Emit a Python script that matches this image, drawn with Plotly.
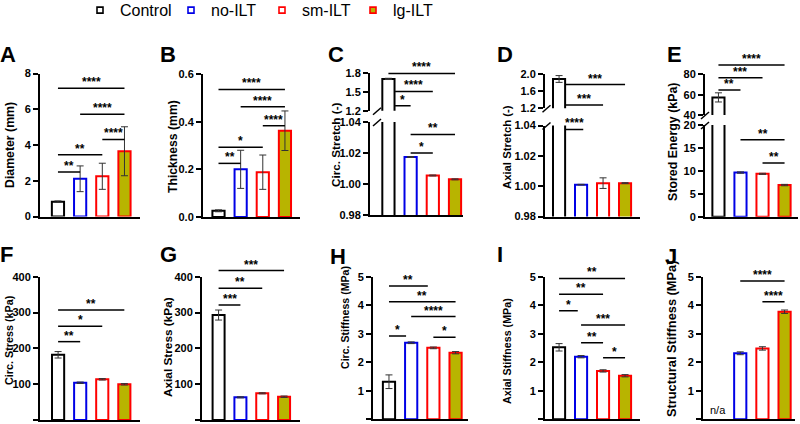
import plotly.graph_objects as go

W, H = 800, 424

groups = ["Control", "no-ILT", "sm-ILT", "lg-ILT"]
edge_colors = ["#000000", "#0000e6", "#ff0000", "#ff0000"]
fill_colors = ["#ffffff", "#ffffff", "#ffffff", "#b8b400"]
positions = [0, 1, 2, 3]

# mean values and error bars
diameter = [0.83, 2.11, 2.25, 3.65]
diameter_err = [0.04, 0.72, 0.73, 1.37]
thickness = [0.026, 0.200, 0.188, 0.362]
thickness_err = [0.004, 0.080, 0.072, 0.083]
circ_stretch = [1.71, 1.0174, 1.0055, 1.0030]
circ_stretch_err = [0.01, 0.0003, 0.0003, 0.0003]
axial_stretch = [1.89, 1.0010, 1.0020, 1.0020]
axial_stretch_err = [0.08, 0.0002, 0.0035, 0.0003]
stored_energy = [57.3, 9.63, 9.35, 6.90]
stored_energy_err = [4.5, 0.15, 0.12, 0.15]
circ_stress = [182, 104, 113.6, 99.6]
circ_stress_err = [9, 2, 2, 2]
axial_stress = [293, 63.3, 74.5, 65]
axial_stress_err = [14, 1.5, 1.5, 2]
circ_stiffness = [1.32, 2.69, 2.51, 2.34]
circ_stiffness_err = [0.24, 0.03, 0.03, 0.04]
axial_stiffness = [2.53, 2.20, 1.70, 1.53]
axial_stiffness_err = [0.13, 0.04, 0.04, 0.04]
struct_stiffness = [None, 2.32, 2.49, 3.78]
struct_stiffness_err = [None, 0.05, 0.06, 0.06]

# significance brackets: (from group, to group, height, label)
diameter_sig = [(0, 1, 2.49, "**"), (0, 2, 3.46, "**"), (2, 3, 4.31, "****"),
                (1, 3, 5.72, "****"), (0, 3, 7.18, "****")]
thickness_sig = [(0, 1, 0.225, "**"), (0, 2, 0.293, "*"), (2, 3, 0.383, "****"),
                 (1, 3, 0.463, "****"), (0, 3, 0.535, "****")]
circ_stretch_sig = [(0, 3, 1.797, "****"), (0.3, 2, 1.51, "****"), (0.3, 1, 1.28, "*"),
                    (1, 3, 1.032, "**"), (1, 2, 1.020, "*")]
axial_stretch_sig = [(0.3, 3, 1.76, "***"), (0.3, 2, 1.28, "***"), (0.3, 1.1, 1.0374, "****")]
stored_energy_sig = [(0, 3, 89.2, "****"), (0, 2, 76.7, "***"), (0, 1, 64.5, "**"),
                     (1, 3, 16.8, "**"), (2, 3, 11.7, "**")]
circ_stress_sig = [(0, 1, 218.7, "**"), (0, 2, 262, "*"), (0, 3, 307, "**")]
axial_stress_sig = [(0, 1, 321, "***"), (0, 2, 368, "**"), (0, 3, 417, "***")]
circ_stiffness_sig = [(0, 1.75, 4.68, "**"), (0, 3, 4.13, "**"), (1, 3, 3.61, "****"),
                      (0, 0.77, 2.93, "*"), (2, 3, 2.88, "*")]
axial_stiffness_sig = [(0, 3, 4.95, "**"), (0, 2, 4.39, "**"), (0, 0.85, 3.81, "*"),
                       (1, 3, 3.31, "***"), (1, 2, 2.69, "**"), (2, 3, 2.16, "*")]
struct_stiffness_sig = [(1, 3, 4.86, "****"), (2, 3, 4.13, "****")]

FONT = "Arial, Liberation Sans, sans-serif"

# panel geometry in pixels: x span, x data range, segments (top px, bottom px, y range, ticks, format)
panels = [
    dict(letter="A", lx=-2, ly=40, title="Diameter (mm)", tx=10, ty=145, ts=12.3,
         vals=diameter, errs=diameter_err, sig=diameter_sig,
         xpx=(40, 140), xr=(-0.81, 3.70),
         segs=[(73.5, 216.5, (0, 8), [0, 2, 4, 6, 8], "")]),
    dict(letter="B", lx=158, ly=40, title="Thickness (mm)", tx=173, ty=147, ts=12.2,
         vals=thickness, errs=thickness_err, sig=thickness_sig,
         xpx=(203, 300), xr=(-0.70, 3.68),
         segs=[(74, 217, (0, 0.6), [0, 0.2, 0.4, 0.6], ".1f")]),
    dict(letter="C", lx=326, ly=40, title="Circ. Stretch (-)", tx=335, ty=145, ts=11.7,
         vals=circ_stretch, errs=circ_stretch_err, sig=circ_stretch_sig,
         xpx=(370, 463), xr=(-0.83, 3.36), brk=377,
         segs=[(73.3, 110.7, (1.2, 1.8), [1.2, 1.5, 1.8], ".1f"),
               (122, 215, (0.98, 1.04), [0.98, 1.00, 1.02, 1.04], ".2f")]),
    dict(letter="D", lx=495, ly=40, title="Axial Stretch (-)", tx=507, ty=147, ts=11.3,
         vals=axial_stretch, errs=axial_stretch_err, sig=axial_stretch_sig,
         xpx=(545, 640), xr=(-0.64, 3.68), brk=546.5,
         segs=[(74.3, 108.3, (1.2, 2.0), [1.2, 1.6, 2.0], ".1f"),
               (125.5, 216.5, (0.98, 1.04), [0.98, 1.00, 1.02, 1.04], ".2f")]),
    dict(letter="E", lx=665, ly=40, title="Stored Energy (kPa)", tx=673, ty=142, ts=12.4,
         vals=stored_energy, errs=stored_energy_err, sig=stored_energy_sig,
         xpx=(705, 798), xr=(-0.61, 3.61), brk=705,
         segs=[(74.3, 115, (40, 80), [40, 60, 80], ""),
               (125, 216.7, (0, 20), [0, 5, 10, 15, 20], "")]),
    dict(letter="F", lx=-2, ly=240, title="Circ. Stress (kPa)", tx=9, ty=340, ts=10.8,
         vals=circ_stress, errs=circ_stress_err, sig=circ_stress_sig,
         xpx=(40, 140), xr=(-0.82, 3.71),
         segs=[(276.7, 420, (0, 400), [0, 100, 200, 300, 400], "")]),
    dict(letter="G", lx=158, ly=240, title="Axial Stress (kPa)", tx=168, ty=347, ts=11.8,
         vals=axial_stress, errs=axial_stress_err, sig=axial_stress_sig,
         xpx=(202, 300), xr=(-0.76, 3.73),
         segs=[(276.7, 420, (0, 400), [0, 100, 200, 300, 400], "")]),
    dict(letter="H", lx=328, ly=242, title="Circ. Stiffness (MPa)", tx=345, ty=318, ts=10.6,
         vals=circ_stiffness, errs=circ_stiffness_err, sig=circ_stiffness_sig,
         xpx=(373, 468), xr=(-0.72, 3.56),
         segs=[(277, 419.3, (0, 5), [0, 1, 2, 3, 4, 5], "")]),
    dict(letter="I", lx=495, ly=240, title="Axial Stiffness (MPa)", tx=507, ty=351, ts=10.7,
         vals=axial_stiffness, errs=axial_stiffness_err, sig=axial_stiffness_sig,
         xpx=(545, 640), xr=(-0.64, 3.68),
         segs=[(277, 419.3, (0, 5), [0, 1, 2, 3, 4, 5], "")]),
    dict(letter="J", lx=663, ly=242, title="Structural Stiffness (MPa)", tx=671, ty=339, ts=12.8,
         vals=struct_stiffness, errs=struct_stiffness_err, sig=struct_stiffness_sig,
         xpx=(703, 795), xr=(-0.68, 3.47),
         segs=[(277, 419.3, (0, 5), [0, 1, 2, 3, 4, 5], "")]),
]


def px_x(p):
    return p / W


def px_y(p):
    return 1 - p / H


fig = go.Figure()
layout = {}
annotations = []
shapes = []
count = [0]


def new_axes(xdom, ydom, xr, yr, show_x=True, visible=True, yopts=None):
    count[0] += 1
    s = "" if count[0] == 1 else str(count[0])
    layout["xaxis" + s] = dict(domain=xdom, range=list(xr), anchor="y" + s,
                               showline=show_x, linecolor="black", linewidth=2,
                               showticklabels=False, ticks="", showgrid=False,
                               zeroline=False, visible=visible, fixedrange=True)
    ya = dict(domain=ydom, range=list(yr), anchor="x" + s, showgrid=False,
              zeroline=False, visible=visible, fixedrange=True)
    if yopts:
        ya.update(yopts)
    layout["yaxis" + s] = ya
    return "x" + s, "y" + s


EXT = 30  # extra headroom (px) for significance bars above the top segment

for p in panels:
    xdom = [px_x(p["xpx"][0]), px_x(p["xpx"][1])]
    seg_axes = []
    for i, (top, bot, yr, tv, fmt) in enumerate(p["segs"]):
        last = i == len(p["segs"]) - 1
        yopts = dict(showline=True, linecolor="black", linewidth=2, ticks="outside",
                     ticklen=5, tickwidth=2, tickcolor="black", tickvals=tv,
                     tickformat=fmt,
                     tickfont=dict(family=FONT, size=11, color="black", weight="bold"))
        xa, ya = new_axes(xdom, [px_y(bot), px_y(top)], p["xr"], yr,
                          show_x=last, yopts=yopts)
        fig.add_trace(go.Bar(
            x=positions, y=p["vals"], width=0.55, xaxis=xa, yaxis=ya,
            marker=dict(color=fill_colors, line=dict(color=edge_colors, width=2)),
            error_y=dict(type="data", array=p["errs"], color="#333333",
                         thickness=1, width=3.5),
            showlegend=False, hoverinfo="skip",
        ))
        seg_axes.append((top, bot, yr, xa, ya))

    # invisible twin of the top segment with headroom for the brackets
    top, bot, yr, _, _ = seg_axes[0]
    scale = (bot - top) / (yr[1] - yr[0])
    twin_yr = (yr[0], yr[1] + EXT / scale)
    txa, tya = new_axes(xdom, [px_y(bot), px_y(top - EXT)], p["xr"], twin_yr,
                        show_x=False, visible=False)

    for x0, x1, yv, lab in p["sig"]:
        if yv >= yr[0]:
            xa, ya = txa, tya
        else:
            xa, ya = seg_axes[-1][3], seg_axes[-1][4]
        fig.add_trace(go.Scatter(
            x=[x0, x1], y=[yv, yv], mode="lines", xaxis=xa, yaxis=ya,
            line=dict(color="black", width=1.5), showlegend=False, hoverinfo="skip",
        ))
        annotations.append(dict(
            x=(x0 + x1) / 2, y=yv, xref=xa, yref=ya, text=lab, showarrow=False,
            xanchor="center", yanchor="bottom", yshift=-3,
            font=dict(family=FONT, size=12, color="black", weight="bold"),
        ))

    # axis break marks
    if len(p["segs"]) > 1:
        ax = p["brk"]
        for yb in (p["segs"][0][1] + 1, p["segs"][1][0] + 1):
            shapes.append(dict(type="line", xref="paper", yref="paper",
                               x0=px_x(ax - 4), y0=px_y(yb + 3),
                               x1=px_x(ax + 4), y1=px_y(yb - 4),
                               line=dict(color="black", width=1.5)))

    if p["vals"][0] is None:
        annotations.append(dict(
            x=0, y=0, xref=seg_axes[-1][3], yref=seg_axes[-1][4], text="n/a",
            showarrow=False, xanchor="center", yanchor="bottom", yshift=1,
            font=dict(family=FONT, size=11, color="black"),
        ))

    annotations.append(dict(
        x=px_x(p["lx"]), y=px_y(p["ly"]), xref="paper", yref="paper",
        text=p["letter"], showarrow=False, xanchor="left", yanchor="top",
        font=dict(family=FONT, size=22, color="black", weight="bold"),
    ))
    annotations.append(dict(
        x=px_x(p["tx"]), y=px_y(p["ty"]), xref="paper", yref="paper",
        text=p["title"], showarrow=False, textangle=-90,
        xanchor="center", yanchor="middle",
        font=dict(family=FONT, size=p["ts"], color="black", weight="bold"),
    ))

# legend entries
for g, ec, fc in zip(groups, edge_colors, fill_colors):
    fig.add_trace(go.Scatter(
        x=[None], y=[None], mode="markers", name=g, xaxis="x", yaxis="y",
        marker=dict(symbol="square", size=6, color=fc, line=dict(color=ec, width=1.6)),
    ))

fig.update_layout(**layout)
fig.update_layout(
    width=W, height=H,
    margin=dict(l=0, r=0, t=0, b=0, autoexpand=False),
    plot_bgcolor="rgba(0,0,0,0)", paper_bgcolor="white",
    annotations=annotations, shapes=shapes,
    showlegend=True,
    legend=dict(orientation="h", x=px_x(80), y=1.016, xanchor="left", yanchor="top",
                font=dict(family=FONT, size=16, color="black"),
                entrywidth=46, entrywidthmode="pixels",
                bgcolor="rgba(0,0,0,0)", itemwidth=30, tracegroupgap=0),
)

fig.write_html("out.html", config={"displayModeBar": False},
               post_script="document.body.style.margin = '0';")
